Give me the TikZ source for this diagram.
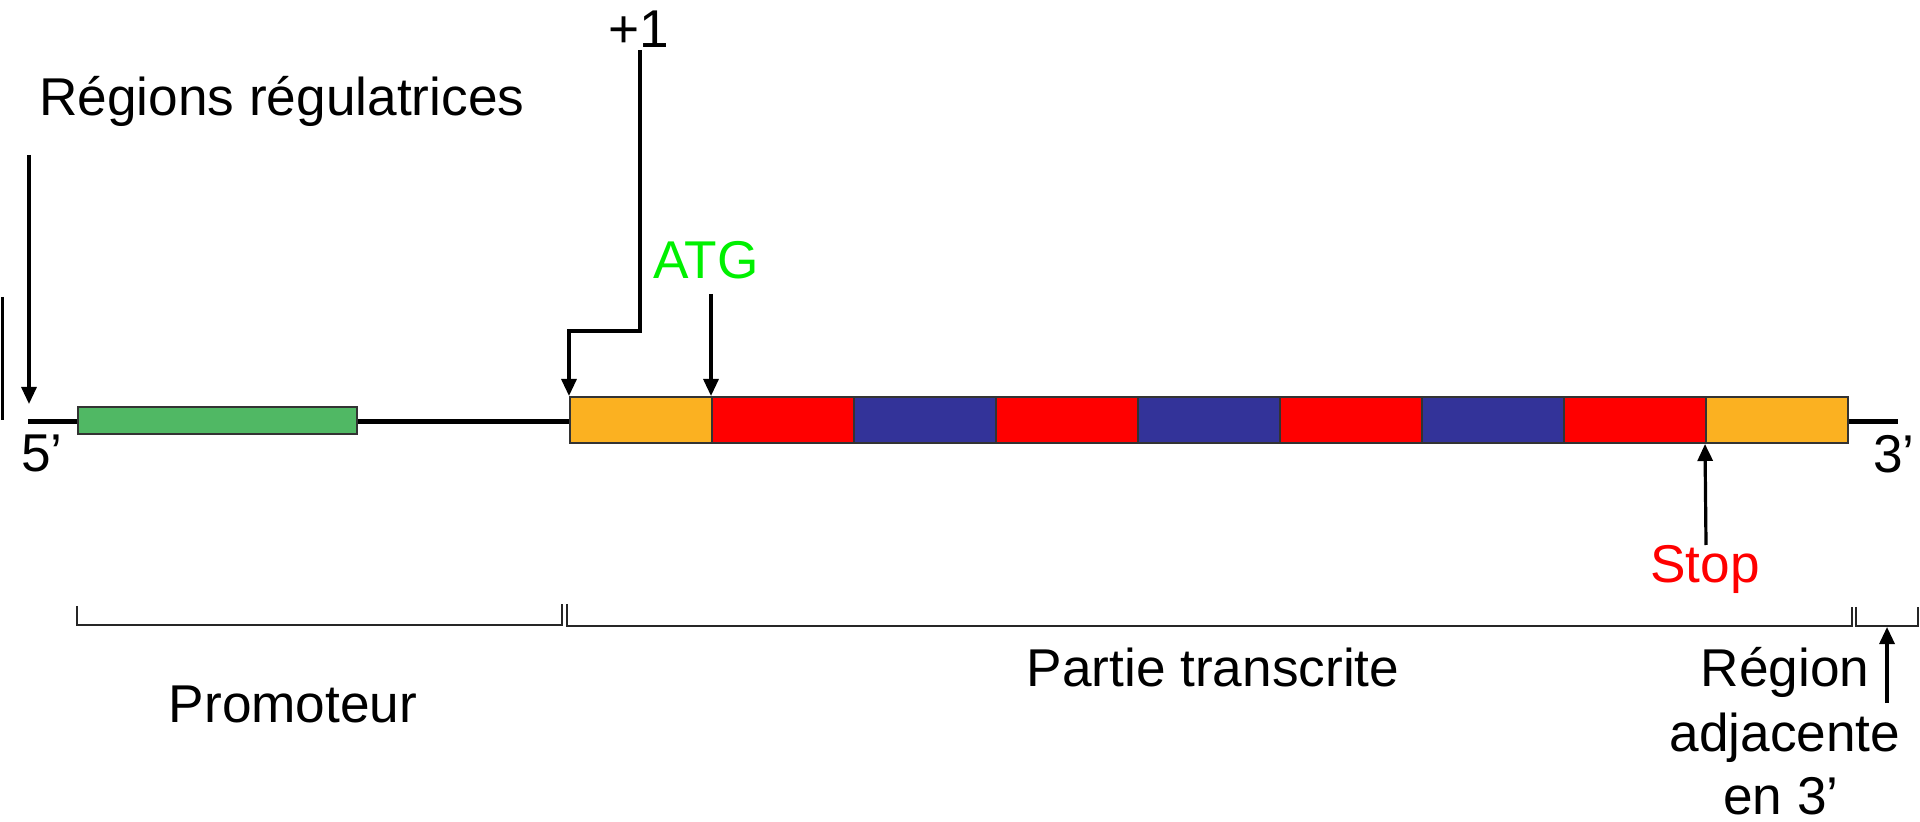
\documentclass[tikz,border=0pt]{standalone}
\usepackage{fontspec}
\setmainfont{Liberation Sans}
\usetikzlibrary{arrows.meta}
\definecolor{utr}{HTML}{FBB121}
\definecolor{exo}{HTML}{FF0000}
\definecolor{intr}{HTML}{333399}
\definecolor{prom}{HTML}{50B864}
\definecolor{atgc}{HTML}{00F000}
\tikzset{
  seg/.style={draw=black!80, line width=1pt, inner sep=0pt, minimum width=71pt, minimum height=23pt},
  lab/.style={font=\fontsize{26.6pt}{32pt}\selectfont, inner sep=0pt, anchor=base},
  arr/.style={line width=1.6pt, -{Triangle[width=7.5pt,length=8.5pt]}},
  brk/.style={line width=0.8pt, black!85},
  dna/.style={line width=2.5pt}
}
\begin{document}
\begin{tikzpicture}[x={(0.5pt,0)}, y={(0,-0.5pt)}]
\useasboundingbox (0,0) rectangle (1920,822);
% DNA line
\coordinate (l5) at (28,422);
\coordinate (r3) at (1898,422);
\node[seg, fill=prom, minimum width=139.5pt, minimum height=13.5pt] (pr) at (217.5,420.5) {};
\draw[dna] (l5) -- (pr.west |- l5);
\foreach \i/\c in {1/utr,2/exo,3/intr,4/exo,5/intr,6/exo,7/intr,8/exo,9/utr}{
  \node[seg, fill=\c] (s\i) at ({570+71+142*(\i-1)},420) {};
}
\draw[dna] (pr.east |- l5) -- (s1.west |- l5);
\draw[dna] (s9.east |- r3) -- (r3);
% left vertical line
\coordinate (v1) at (2,297);
\coordinate (v2) at (2,420);
\draw[line width=1.5pt] (v1) -- (v2);
% labels
\node[lab, anchor=base west] (reg) at (39,116) {Régions régulatrices};
\coordinate (rega) at (29,155);
\coordinate (regb) at (29,404);
\draw[arr] (rega) -- (regb);
\node[lab] (p1) at (639,48) {+1};
\coordinate (p1a) at (640,50);
\draw[arr] (p1a) -- (640,331) -- (s1.north west |- 0,331) -- (s1.north west);
\node[lab, text=atgc] (atg) at (706,279) {ATG};
\coordinate (atga) at (711,294);
\draw[arr] (atga) -- (s2.north west);
\node[lab, text=exo] (stop) at (1705,582) {Stop};
\coordinate (stopa) at (1706,545);
\draw[arr] (stopa) -- (s9.south west);
\node[lab] (five) at (42,472) {5’};
\node[lab] (three) at (1894,473) {3’};
% brackets
\draw[brk] (77,606) -- (77,625) -- (562,625) -- (562,604);
\draw[brk] (567,604) -- (567,626) -- (1852,626) -- (1852,607);
\draw[brk] (1856,607) -- (1856,626) -- (1918,626) -- (1918,607);
\node[lab] (promo) at (293,722) {Promoteur};
\node[lab] (part) at (1213,686) {Partie transcrite};
\node[lab] (ra1) at (1785,686) {Région};
\node[lab] (ra2) at (1785,751) {adjacente};
\node[lab] (ra3) at (1781,814) {en 3’};
\coordinate (raa) at (1887,703);
\coordinate (rab) at (1887,627);
\draw[arr] (raa) -- (rab);
\end{tikzpicture}
\end{document}
